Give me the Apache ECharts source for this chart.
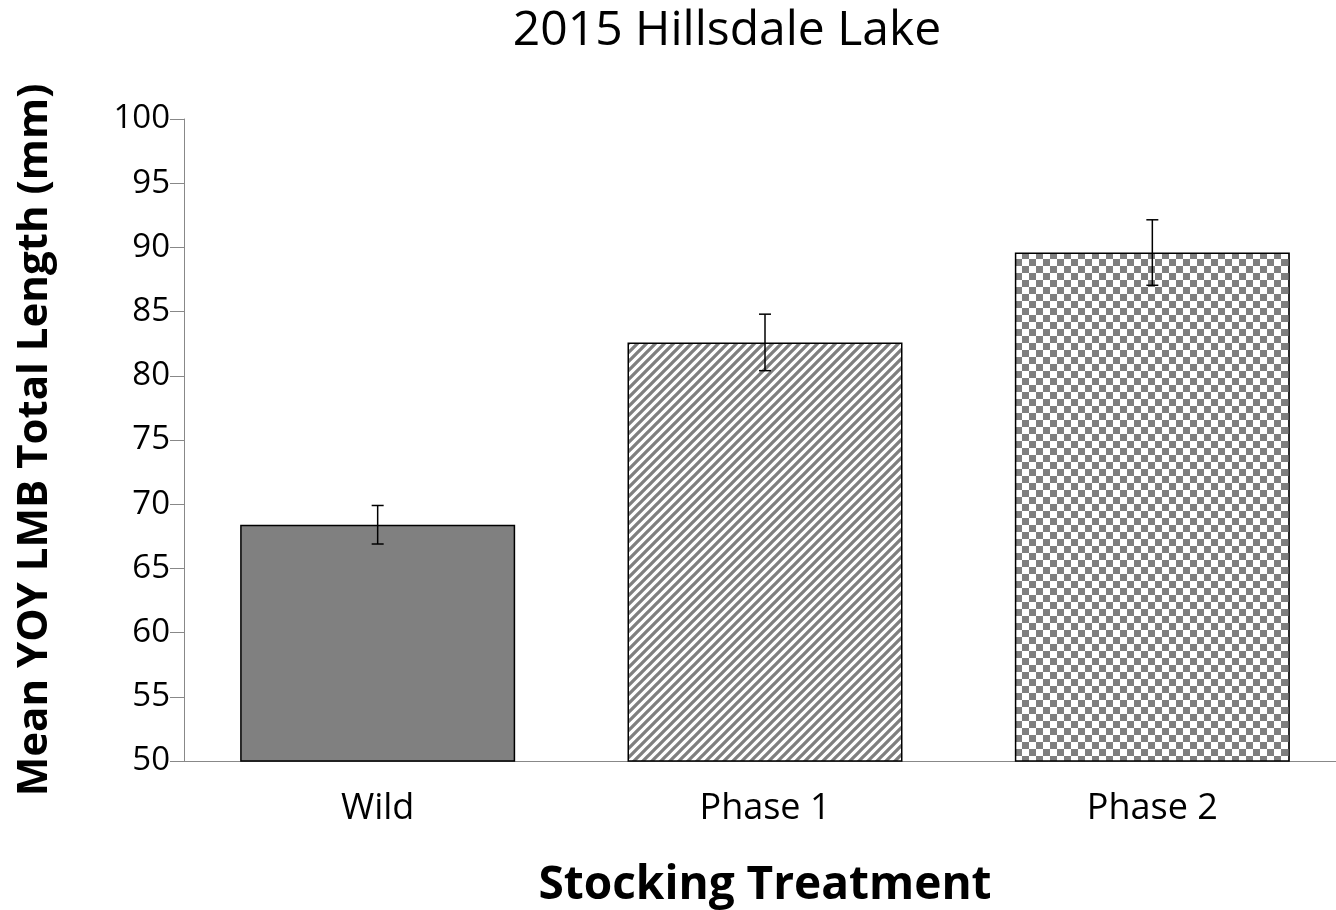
<!DOCTYPE html>
<html>
<head>
<meta charset="utf-8">
<title>2015 Hillsdale Lake</title>
<script src="https://cdn.jsdelivr.net/npm/echarts@6/dist/echarts.min.js"></script>
<style>
  html, body { margin: 0; padding: 0; background: #fff; }
  #chart { width: 1336px; height: 910px; }
</style>
</head>
<body>
<div id="chart"></div>
<script>
// data
var categories = ["Wild", "Phase 1", "Phase 2"];
var meanLength = [68.4, 82.6, 89.6];
var stdError = [1.5, 2.2, 2.55];

// fill patterns like the excel ones
function stripePattern() {
  var s = 9;
  var c = document.createElement("canvas");
  c.width = s; c.height = s;
  var ctx = c.getContext("2d");
  ctx.fillStyle = "#fff";
  ctx.fillRect(0, 0, s, s);
  ctx.strokeStyle = "#7f7f7f";
  ctx.lineWidth = 3.3;
  ctx.beginPath();
  ctx.moveTo(-2, 2); ctx.lineTo(2, -2);
  ctx.moveTo(-1, s + 1); ctx.lineTo(s + 1, -1);
  ctx.moveTo(s - 2, s + 2); ctx.lineTo(s + 2, s - 2);
  ctx.stroke();
  return c;
}
function checkerPattern() {
  var q = 7;
  var c = document.createElement("canvas");
  c.width = q * 2; c.height = q * 2;
  var ctx = c.getContext("2d");
  ctx.fillStyle = "#fff";
  ctx.fillRect(0, 0, q * 2, q * 2);
  ctx.fillStyle = "#7f7f7f";
  ctx.fillRect(0, 0, q, q);
  ctx.fillRect(q, q, q, q);
  return c;
}

var fills = [
  "#808080",
  { image: stripePattern(), repeat: "repeat" },
  { image: checkerPattern(), repeat: "repeat" }
];

var barData = [];
var errData = [];
for (var i = 0; i < categories.length; i++) {
  barData.push({ value: meanLength[i], itemStyle: { color: fills[i] } });
  errData.push([i, meanLength[i] - stdError[i], meanLength[i] + stdError[i]]);
}

var chart = echarts.init(document.getElementById("chart"));
var font = "'Open Sans', 'Noto Sans', sans-serif";

var option = {
  animation: false,
  backgroundColor: "#fff",
  title: {
    text: "2015 Hillsdale Lake",
    left: 722,
    textAlign: "center",
    top: 2,
    textStyle: { fontFamily: font, fontSize: 48, fontWeight: "normal", color: "#000" }
  },
  grid: {
    left: 184, top: 119, bottom: 149, width: 1162,
    containLabel: false,
    outerBoundsMode: "none"
  },
  xAxis: {
    type: "category",
    data: categories,
    name: "Stocking Treatment",
    nameLocation: "middle",
    nameGap: 102,
    nameTextStyle: { fontFamily: font, fontSize: 46, fontWeight: "bold", color: "#000" },
    axisLine: { lineStyle: { color: "#888", width: 1 } },
    axisTick: { length: 12, lineStyle: { color: "#888" } },
    axisLabel: { margin: 30, fontFamily: font, fontSize: 36, color: "#000" }
  },
  yAxis: {
    type: "value",
    min: 50,
    max: 100,
    interval: 5,
    name: "Mean YOY LMB Total Length (mm)",
    nameLocation: "middle",
    nameGap: 128,
    nameTextStyle: { fontFamily: font, fontSize: 42, fontWeight: "bold", color: "#000" },
    axisLine: { show: true, lineStyle: { color: "#888", width: 1 } },
    axisTick: { show: true, length: 14, lineStyle: { color: "#888" } },
    axisLabel: { margin: 14, fontFamily: font, fontSize: 33, color: "#000" },
    splitLine: { show: false }
  },
  series: [
    {
      type: "bar",
      data: barData,
      barWidth: "71%",
      itemStyle: { borderColor: "#000", borderWidth: 1.5 }
    },
    {
      type: "custom",
      data: errData,
      z: 10,
      renderItem: function (params, api) {
        var x = api.value(0);
        var lo = api.coord([x, api.value(1)]);
        var hi = api.coord([x, api.value(2)]);
        var w = 6;
        var st = { stroke: "#000", lineWidth: 1.5 };
        return {
          type: "group",
          children: [
            { type: "line", shape: { x1: hi[0], y1: hi[1], x2: lo[0], y2: lo[1] }, style: st },
            { type: "line", shape: { x1: hi[0] - w, y1: hi[1], x2: hi[0] + w, y2: hi[1] }, style: st },
            { type: "line", shape: { x1: lo[0] - w, y1: lo[1], x2: lo[0] + w, y2: lo[1] }, style: st }
          ]
        };
      }
    }
  ]
};

chart.setOption(option);
</script>
</body>
</html>
